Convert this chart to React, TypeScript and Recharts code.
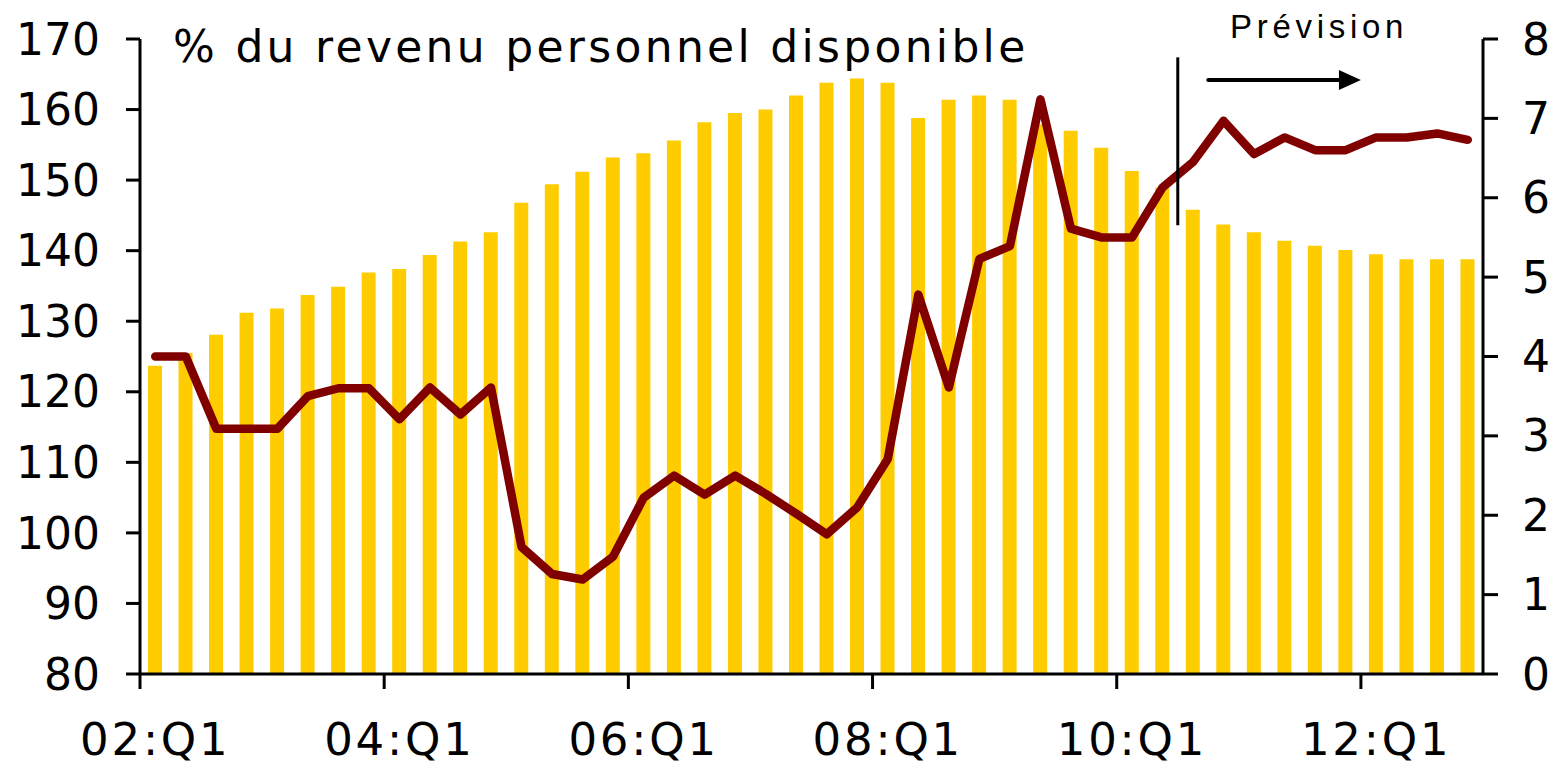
import React from 'react';
import { ComposedChart, Bar, Line, XAxis, YAxis, ReferenceLine } from 'recharts';

// quarters 2002:Q1 .. 2012:Q4
const quarters = [
  '02:Q1', '02:Q2', '02:Q3', '02:Q4', '03:Q1', '03:Q2', '03:Q3', '03:Q4',
  '04:Q1', '04:Q2', '04:Q3', '04:Q4', '05:Q1', '05:Q2', '05:Q3', '05:Q4',
  '06:Q1', '06:Q2', '06:Q3', '06:Q4', '07:Q1', '07:Q2', '07:Q3', '07:Q4',
  '08:Q1', '08:Q2', '08:Q3', '08:Q4', '09:Q1', '09:Q2', '09:Q3', '09:Q4',
  '10:Q1', '10:Q2', '10:Q3', '10:Q4', '11:Q1', '11:Q2', '11:Q3', '11:Q4',
  '12:Q1', '12:Q2', '12:Q3', '12:Q4',
];

// bars, left axis (% du revenu personnel disponible)
const debtRatio = [
  123.7, 125.5, 128.1, 131.2, 131.8, 133.7, 134.9, 136.9,
  137.4, 139.4, 141.3, 142.6, 146.8, 149.4, 151.2, 153.2,
  153.8, 155.6, 158.2, 159.5, 160.0, 162.0, 163.8, 164.4,
  163.8, 158.8, 161.4, 162.0, 161.4, 157.9, 157.0, 154.6,
  151.3, 148.9, 145.8, 143.7, 142.6, 141.4, 140.7, 140.1,
  139.5, 138.8, 138.8, 138.8,
];

// line, right axis
const savingsRate = [
  4.0, 4.0, 3.09, 3.09, 3.09, 3.5, 3.6, 3.6,
  3.21, 3.61, 3.27, 3.61, 1.6, 1.26, 1.19, 1.48,
  2.22, 2.5, 2.26, 2.5, 2.27, 2.02, 1.76, 2.1,
  2.71, 4.78, 3.61, 5.23, 5.39, 7.24, 5.61, 5.5,
  5.5, 6.13, 6.45, 6.97, 6.55, 6.76, 6.6, 6.6,
  6.76, 6.76, 6.81, 6.73,
];

const leftTicks = [80, 90, 100, 110, 120, 130, 140, 150, 160, 170];
const rightTicks = [0, 1, 2, 3, 4, 5, 6, 7, 8];

const data = quarters.map((q, i) => ({ q, debt: debtRatio[i], savings: savingsRate[i] }));

const W = 1550;
const H = 758;
const MARGIN = { top: 31, right: 5, left: 52, bottom: 12 };
const LEFT_W = 80;
const RIGHT_W = 70;
const PLOT_W = W - MARGIN.left - MARGIN.right - LEFT_W - RIGHT_W;
const BAND = PLOT_W / quarters.length;
const FONT = '"DejaVu Sans", Verdana, sans-serif';

const QuarterTick = (props: any) => {
  const { x, y, payload } = props;
  const bx = x - BAND / 2;
  return (
    <g>
      <line x1={bx} x2={bx} y1={y} y2={y + 15} stroke="#000" strokeWidth={3} />
      <text
        x={x}
        y={y + 81}
        textAnchor="middle"
        fontSize={45}
        fontFamily={FONT}
        letterSpacing={2.8}
        fill="#000"
      >
        {payload.value}
      </text>
    </g>
  );
};

const ArrowShape = (props: any) => {
  const { x1, y1, x2, y2 } = props;
  return (
    <g>
      <line x1={x1} y1={y1} x2={x2 - 18} y2={y2} stroke="#000" strokeWidth={4} strokeLinecap="round" />
      <polygon points={`${x2},${y2} ${x2 - 22},${y2 - 10} ${x2 - 22},${y2 + 10}`} fill="#000" />
    </g>
  );
};

export default function App() {
  return (
    <div style={{ position: 'relative', width: W, height: H, fontFamily: FONT }}>
      <ComposedChart width={W} height={H} data={data} margin={MARGIN}>
        <XAxis
          dataKey="q"
          interval={7}
          height={80}
          tickLine={false}
          tickSize={0}
          tickMargin={0}
          axisLine={{ stroke: '#000', strokeWidth: 3 }}
          tick={<QuarterTick />}
        />
        <YAxis
          yAxisId="left"
          orientation="left"
          width={LEFT_W}
          domain={[80, 170]}
          ticks={leftTicks}
          interval={0}
          tickSize={14}
          tickMargin={26}
          axisLine={{ stroke: '#000', strokeWidth: 3 }}
          tickLine={{ stroke: '#000', strokeWidth: 3 }}
          tick={{ fill: '#000', fontSize: 44, fontFamily: FONT }}
        />
        <YAxis
          yAxisId="right"
          orientation="right"
          width={RIGHT_W}
          domain={[0, 8]}
          ticks={rightTicks}
          interval={0}
          tickSize={15}
          tickMargin={24}
          axisLine={{ stroke: '#000', strokeWidth: 3 }}
          tickLine={{ stroke: '#000', strokeWidth: 3 }}
          tick={{ fill: '#000', fontSize: 44, fontFamily: FONT }}
        />
        <Bar yAxisId="left" dataKey="debt" fill="#FFCC00" barSize={14} isAnimationActive={false} />
        <Line
          yAxisId="right"
          dataKey="savings"
          type="linear"
          stroke="#800000"
          strokeWidth={8.5}
          strokeLinejoin="round"
          strokeLinecap="round"
          dot={false}
          activeDot={false}
          isAnimationActive={false}
        />
        {/* forecast boundary */}
        <ReferenceLine
          yAxisId="left"
          position="end"
          segment={[{ x: '10:Q2', y: 167.4 }, { x: '10:Q2', y: 143.6 }]}
          stroke="#000"
          strokeWidth={3}
        />
        <ReferenceLine
          yAxisId="left"
          position="start"
          segment={[{ x: '10:Q4', y: 164.2 }, { x: '12:Q1', y: 164.2 }]}
          shape={<ArrowShape />}
        />
      </ComposedChart>
      <svg
        width={W}
        height={H}
        style={{ position: 'absolute', left: 0, top: 0, pointerEvents: 'none' }}
      >
        <text x={165} y={54} fontSize={44} fontFamily={FONT} letterSpacing={3.3} fill="#000">
          % du revenu personnel disponible
        </text>
        <text
          x={1222}
          y={30}
          fontSize={33}
          fontFamily='"Liberation Sans", Arial, sans-serif'
          letterSpacing={4.7}
          fill="#000"
        >
          Prévision
        </text>
      </svg>
    </div>
  );
}
